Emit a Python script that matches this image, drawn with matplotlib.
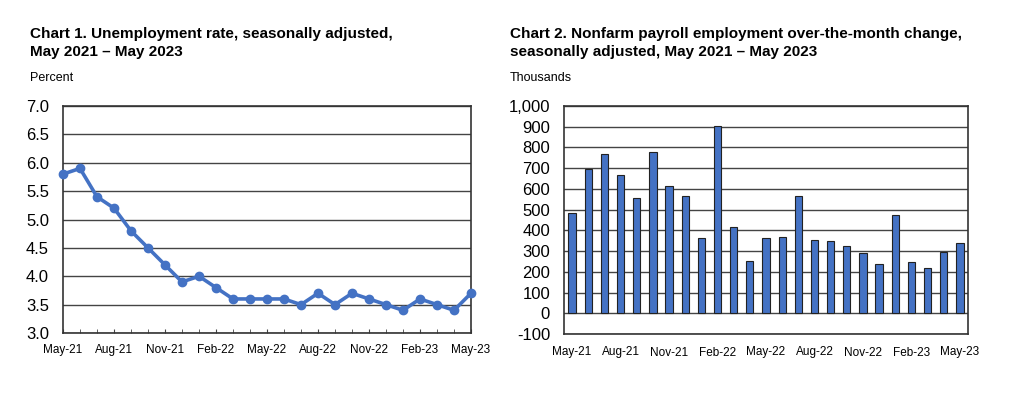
import matplotlib
matplotlib.use("Agg")
import matplotlib.pyplot as plt
import numpy as np

plt.rcParams['font.family'] = ['Liberation Sans', 'DejaVu Sans']

months = ["May-21","Jun-21","Jul-21","Aug-21","Sep-21","Oct-21","Nov-21","Dec-21",
          "Jan-22","Feb-22","Mar-22","Apr-22","May-22","Jun-22","Jul-22","Aug-22",
          "Sep-22","Oct-22","Nov-22","Dec-22","Jan-23","Feb-23","Mar-23","Apr-23","May-23"]
unemployment = [5.8, 5.9, 5.4, 5.2, 4.8, 4.5, 4.2, 3.9, 4.0, 3.8, 3.6, 3.6, 3.6,
                3.6, 3.5, 3.7, 3.5, 3.7, 3.6, 3.5, 3.4, 3.6, 3.5, 3.4, 3.7]
payroll = [483, 695, 770, 665, 558, 780, 612, 568, 365, 904, 414, 254, 364,
           370, 568, 352, 350, 324, 290, 240, 472, 248, 217, 294, 339]

blue = "#4472C4"
W, H = 1024, 397
fig = plt.figure(figsize=(W/100, H/100), dpi=100)

def ax_rect(l, t, r, b):
    return [l/W, 1 - b/H, (r-l)/W, (b-t)/H]

x = np.arange(len(months))
tick_idx = list(range(0, len(months), 3))

# Chart 1
ax1 = fig.add_axes(ax_rect(63, 106, 471, 333))
ax1.plot(x, unemployment, color=blue, lw=2.6, marker='o', ms=6, zorder=3, clip_on=False)
ax1.set_xlim(0, 24)
ax1.set_ylim(3.0, 7.0)
ax1.set_yticks(np.arange(3.0, 7.01, 0.5))
ax1.set_yticklabels([f"{v:.1f}" for v in np.arange(3.0, 7.01, 0.5)], fontsize=12)
ax1.set_xticks(x, minor=True)
ax1.set_xticks(tick_idx)
ax1.set_xticklabels([months[i] for i in tick_idx], fontsize=8.5)
ax1.grid(axis='y', color='#444444', lw=1.0, zorder=0)
ax1.tick_params(axis='y', length=0, pad=10)
ax1.tick_params(axis='x', which='both', direction='in', length=3, color='#444444', pad=8)
for s in ax1.spines.values():
    s.set_color('#333333'); s.set_linewidth(1.2)

fig.text(30/W, 1 - 27/H, "Chart 1. Unemployment rate, seasonally adjusted,\nMay 2021 \u2013 May 2023",
         fontsize=11, fontweight='bold', ha='left', va='top', linespacing=1.35)
fig.text(30/W, 1 - 78/H, "Percent", fontsize=9, ha='left', va='center')

# Chart 2
ax2 = fig.add_axes(ax_rect(564, 106, 968, 334))
ax2.bar(x, payroll, width=0.45, color=blue, edgecolor='#222222', linewidth=0.8, zorder=3)
ax2.set_xlim(-0.5, 24.5)
ax2.set_ylim(-100, 1000)
yt = np.arange(-100, 1001, 100)
ax2.set_yticks(yt)
ax2.set_yticklabels([f"{v:,}" for v in yt], fontsize=12)
ax2.set_xticks(tick_idx)
ax2.set_xticklabels([months[i] for i in tick_idx], fontsize=8.5)
ax2.grid(axis='y', color='#444444', lw=1.0, zorder=0)
ax2.tick_params(axis='y', length=0, pad=10)
ax2.tick_params(axis='x', length=0, pad=9)
for s in ax2.spines.values():
    s.set_color('#333333'); s.set_linewidth(1.2)

fig.text(510/W, 1 - 27/H, "Chart 2. Nonfarm payroll employment over-the-month change,\nseasonally adjusted, May 2021 \u2013 May 2023",
         fontsize=11, fontweight='bold', ha='left', va='top', linespacing=1.35)
fig.text(510/W, 1 - 78/H, "Thousands", fontsize=9, ha='left', va='center')

fig.savefig("out.png", dpi=100)
